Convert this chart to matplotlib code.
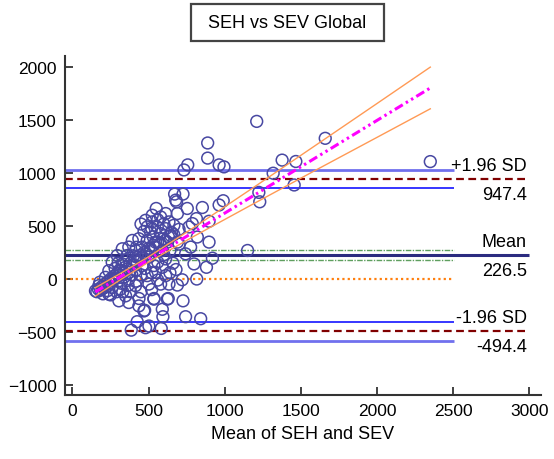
import matplotlib.pyplot as plt
from matplotlib.patches import Rectangle

plt.rcParams['font.family'] = ['Liberation Sans', 'DejaVu Sans']

# mean of the two methods (x) and their difference (y)
mean_vals = [
    2350, 1210, 1660, 888, 888, 732, 757, 963, 995, 1377,
    1467, 1318, 1456, 1224, 1230, 671, 726, 684, 754, 853,
    963, 990, 897, 814, 765, 820, 897, 776, 919, 798,
    880, 816, 1150, 721, 689, 726, 743, 842, 629, 590,
    594, 583, 502, 425, 386, 474, 437, 535, 678, 689,
    787, 666, 689, 743,
    550, 612, 524, 579, 480, 524, 634, 491, 557, 612,
    513, 579, 645, 436, 393, 491, 546, 623, 370, 458,
    327, 414, 513, 590, 294, 359, 425, 502, 612, 261,
    327, 393, 458, 535, 590, 239, 305, 370,
    414, 217, 272, 370, 491, 546, 612, 173, 151, 239,
    316, 414, 502, 579, 634, 349, 305, 370, 436, 535,
    623, 469, 480,
    160, 170, 185, 195, 205, 215, 225, 235, 245, 255,
    265, 275, 285, 295, 305, 320, 335, 345, 360, 380,
    395, 410, 425, 440, 455, 470, 485, 500, 515, 530,
    545, 560, 575, 595, 610, 630, 650, 665, 700, 180,
    200, 230, 260, 290, 320, 340, 365, 390, 420, 450,
    475, 520, 560, 600, 640, 660, 700, 530, 470, 450,
    560, 600, 520, 420, 400, 350, 300, 280, 250, 330,
    380, 450, 520, 560, 640, 680,
]
diff_vals = [
    1110, 1490, 1330, 1286, 1143, 1031, 1079, 1079, 1060, 1124,
    1111, 1000, 889, 819, 730, 803, 803, 730, 667, 676,
    700, 740, 546, 571, 492, 397, 349, 302, 197, 143,
    111, 0, 270, -7, -57, -206, -356, -375, -184, -286,
    -356, -467, -444, -403, -483, -295, -184, -184, 746, 619,
    524, 508, 349, 238,
    667, 619, 603, 587, 555, 540, 540, 492, 492, 476,
    444, 429, 412, 381, 365, 365, 349, 349, 302, 302,
    286, 270, 286, 270, 222, 222, 206, 206, 190, 159,
    143, 127, 127, 127, 111, 79, 79, 63,
    79, 16, 0, 0, 32, 63, 32, -63, -111, -143,
    -95, -63, -48, -48, -48, -159, -206, -222, -254, -190,
    -190, -302, -460,
    -120, -95, -105, -70, -85, -45, -70, -20, -40, 5,
    -15, 30, 10, 55, 35, 80, 60, 110, 95, 150,
    130, 175, 160, 220, 200, 250, 235, 290, 270, 320,
    300, 350, 335, 380, 365, 400, 440, 420, 470, -30,
    -140, -110, -80, -120, -40, 20, -60, 40, -20, 40,
    100, 60, 160, 230, 270, 150, 330, 400, 450, 520,
    560, 520, 480, 300, 220, 180, 150, 100, -150, -120,
    -120, -120, -100, -10, 60, 90,
]

# limits of agreement and their confidence intervals
mean_diff = 226.5
mean_ci = [276, 177]
upper_loa = 947.4
upper_ci = [1035, 860]
lower_loa = -494.4
lower_ci = [-407, -582]

# regression of difference on mean with its confidence band
reg_x = [150, 2350]
reg_y = [-122, 1806]
band_x = [150, 300, 500, 800, 1200, 1600, 2000, 2350]
band_hi = [-82, 40, 210, 490, 876, 1267, 1659, 2003]
band_lo = [-162, -20, 160, 406, 720, 1031, 1339, 1609]

fig = plt.figure(figsize=(5.54, 4.60), dpi=100)
ax = fig.add_axes([65 / 554, 1 - 396 / 460, 476 / 554, 339 / 460])

x0 = -49
short_end = 2505
long_end = 2995

ax.hlines(0, x0, short_end, color='#ff7f0e', lw=1.6, linestyle=(0, (1, 1.4)))
ax.hlines(mean_ci, x0, short_end, color='#5f9f5f', lw=1.0, linestyle=(0, (4, 1, 1, 1)))
ax.hlines(mean_diff, x0, long_end, color='#2b2b80', lw=2.2)

ax.hlines(upper_ci[0], x0, short_end, color='#7070ee', lw=2.0)
ax.hlines(upper_ci[1], x0, short_end, color='#0000ff', lw=1.1)
ax.hlines(lower_ci[0], x0, short_end, color='#0000ff', lw=1.1)
ax.hlines(lower_ci[1], x0, short_end, color='#7070ee', lw=2.0)
ax.hlines([upper_loa, lower_loa], x0, long_end, color='#800000', lw=1.6,
          linestyle=(0, (3.5, 2)))

ax.scatter(mean_vals, diff_vals, s=72, facecolors='none', edgecolors='#4848a2',
           linewidths=1.1, zorder=3)

ax.plot(band_x, band_hi, color='#ff9a55', lw=1.0, zorder=4)
ax.plot(band_x, band_lo, color='#ff9a55', lw=1.0, zorder=4)
ax.plot(reg_x, reg_y, color='#ff00ff', lw=2.2, zorder=5,
        linestyle=(0, (3, 1.2, 0.8, 1.2, 0.8, 1.2)))

# labels on the right-hand side
lab_x = 2985
for y, top, bottom in [(upper_loa, '+1.96 SD', '947.4'),
                       (mean_diff, 'Mean', '226.5'),
                       (lower_loa, '-1.96 SD', '-494.4')]:
    ax.annotate(top, (lab_x, y), xytext=(0, 3.5), textcoords='offset points',
                ha='right', va='bottom', fontsize=13, annotation_clip=False)
    ax.annotate(bottom, (lab_x, y), xytext=(0, -5), textcoords='offset points',
                ha='right', va='top', fontsize=13, annotation_clip=False)

ax.set_xlim(x0, 3077)
ax.set_ylim(-1096, 2108)
ax.set_xticks([0, 500, 1000, 1500, 2000, 2500, 3000])
ax.set_yticks([-1000, -500, 0, 500, 1000, 1500, 2000])
ax.tick_params(direction='in', length=6, width=1.3, color='#333333',
               labelsize=12.5, pad=6)
for side in ['top', 'right']:
    ax.spines[side].set_visible(False)
for side in ['left', 'bottom']:
    ax.spines[side].set_linewidth(1.5)
    ax.spines[side].set_color('#333333')
ax.set_xlabel('Mean of SEH and SEV', fontsize=13, labelpad=5)

# boxed title
fig.patches.append(Rectangle((191 / 554, 1 - 42 / 460), 193 / 554, 37 / 460,
                             transform=fig.transFigure, fill=False,
                             edgecolor='#444444', lw=1.6))
fig.text(287.5 / 554, 1 - 23.5 / 460, 'SEH vs SEV Global', ha='center',
         va='center', fontsize=13)

fig.savefig('out.png', dpi=100)
